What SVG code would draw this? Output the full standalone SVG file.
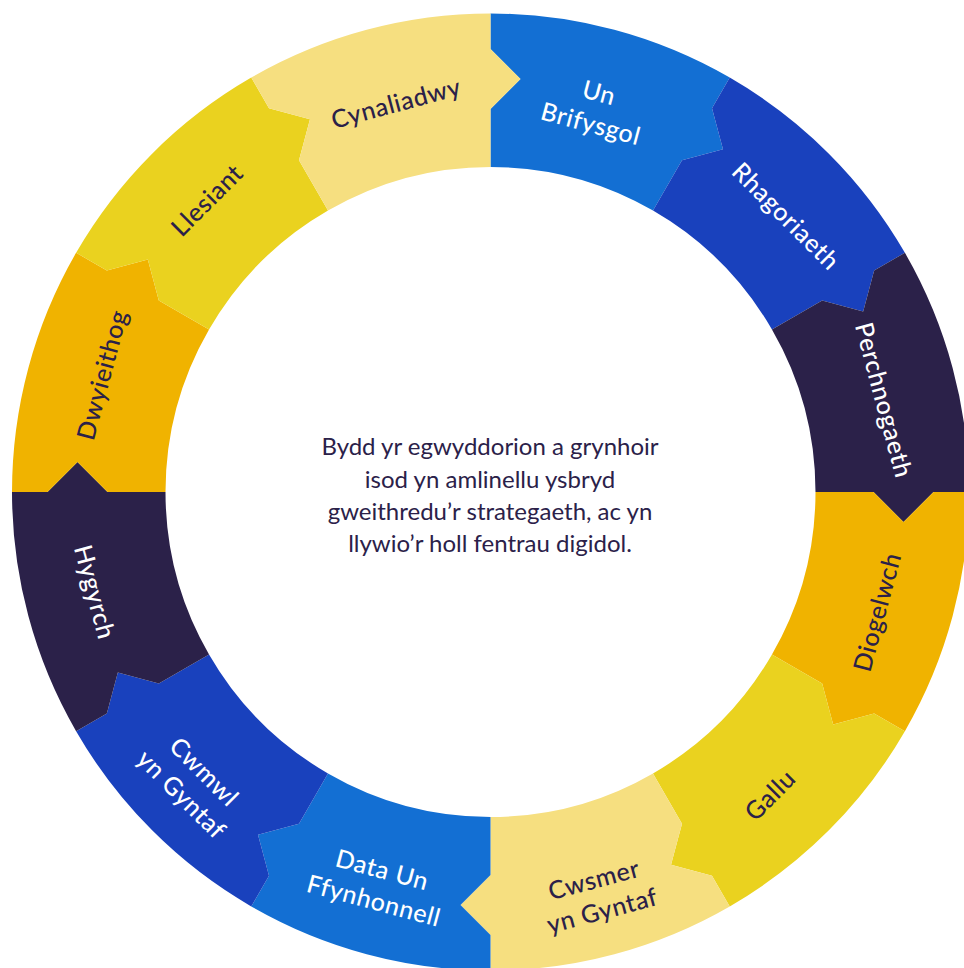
<svg xmlns="http://www.w3.org/2000/svg" xmlns:xlink="http://www.w3.org/1999/xlink" width="964" height="968" viewBox="0 0 964 968">
<style>
.c1{fill:#136FD3}.c2{fill:#1941BD}.c3{fill:#2B2149}.c4{fill:#F0B300}.c5{fill:#EAD21F}.c6{fill:#F6DF80}
.lbl{font-family:Lato,"Noto Sans",sans-serif;font-size:25px;font-weight:500;text-anchor:middle;letter-spacing:0.6px}
.w{fill:#FFFFFF}.d{fill:#2B2149}
.ctr{font-family:Lato,"Noto Sans",sans-serif;font-size:24px;fill:#2B2149;text-anchor:middle}
</style>
<defs>
<path id="seg" d="M0 -478.5 A478.5 478.5 0 0 1 239.25 -414.39 L221.5 -383.65 L232.48 -342.67 L191.5 -331.69 L162.5 -281.46 A325 325 0 0 0 0 -325 L0 -383 L30 -413 L0 -443 Z"/>
</defs>
<rect width="964" height="968" fill="#FFFFFF"/>
<g id="un-brifysgol">
<use xlink:href="#seg" class="c1" transform="translate(490.5 492) rotate(0)"/>
<text class="lbl w" transform="translate(595 108) rotate(15)"><tspan x="0" y="-7">Un</tspan><tspan x="0" y="25">Brifysgol</tspan></text>
</g>
<g id="rhagoriaeth">
<use xlink:href="#seg" class="c2" transform="translate(490.5 492) rotate(30)"/>
<text class="lbl w" transform="translate(786 216) rotate(45)" y="9">Rhagoriaeth</text>
</g>
<g id="perchnogaeth">
<use xlink:href="#seg" class="c3" transform="translate(490.5 492) rotate(60)"/>
<text class="lbl w" transform="translate(884 400) rotate(75)" y="9">Perchnogaeth</text>
</g>
<g id="diogelwch">
<use xlink:href="#seg" class="c4" transform="translate(490.5 492) rotate(90)"/>
<text class="lbl d" transform="translate(877 612) rotate(-75)" y="9">Diogelwch</text>
</g>
<g id="gallu">
<use xlink:href="#seg" class="c5" transform="translate(490.5 492) rotate(120)"/>
<text class="lbl d" transform="translate(770 795) rotate(-45)" y="9">Gallu</text>
</g>
<g id="cwsmer-yn-gyntaf">
<use xlink:href="#seg" class="c6" transform="translate(490.5 492) rotate(150)"/>
<text class="lbl d" transform="translate(598 895) rotate(-15)"><tspan x="0" y="-7">Cwsmer</tspan><tspan x="0" y="25">yn Gyntaf</tspan></text>
</g>
<g id="data-un-ffynhonnell">
<use xlink:href="#seg" class="c1" transform="translate(490.5 492) rotate(180)"/>
<text class="lbl w" transform="translate(378 885) rotate(15)"><tspan x="0" y="-7">Data Un</tspan><tspan x="0" y="25">Ffynhonnell</tspan></text>
</g>
<g id="cwmwl-yn-gyntaf">
<use xlink:href="#seg" class="c2" transform="translate(490.5 492) rotate(210)"/>
<text class="lbl w" transform="translate(193 783) rotate(45)"><tspan x="0" y="-7">Cwmwl</tspan><tspan x="0" y="25">yn Gyntaf</tspan></text>
</g>
<g id="hygyrch">
<use xlink:href="#seg" class="c3" transform="translate(490.5 492) rotate(240)"/>
<text class="lbl w" transform="translate(95 592) rotate(75)" y="9">Hygyrch</text>
</g>
<g id="dwyieithog">
<use xlink:href="#seg" class="c4" transform="translate(490.5 492) rotate(270)"/>
<text class="lbl d" transform="translate(102 375) rotate(-75)" y="9">Dwyieithog</text>
</g>
<g id="llesiant">
<use xlink:href="#seg" class="c5" transform="translate(490.5 492) rotate(300)"/>
<text class="lbl d" transform="translate(207 200) rotate(-45)" y="9">Llesiant</text>
</g>
<g id="cynaliadwy">
<use xlink:href="#seg" class="c6" transform="translate(490.5 492) rotate(330)"/>
<text class="lbl d" transform="translate(396 103) rotate(-15)" y="9">Cynaliadwy</text>
</g>
<g id="centre-text">
<text class="ctr"><tspan x="490" y="455">Bydd yr egwyddorion a grynhoir</tspan><tspan x="490" y="488">isod yn amlinellu ysbryd</tspan><tspan x="490" y="520">gweithredu’r strategaeth, ac yn</tspan><tspan x="490" y="552">llywio’r holl fentrau digidol.</tspan></text>
</g>
</svg>
